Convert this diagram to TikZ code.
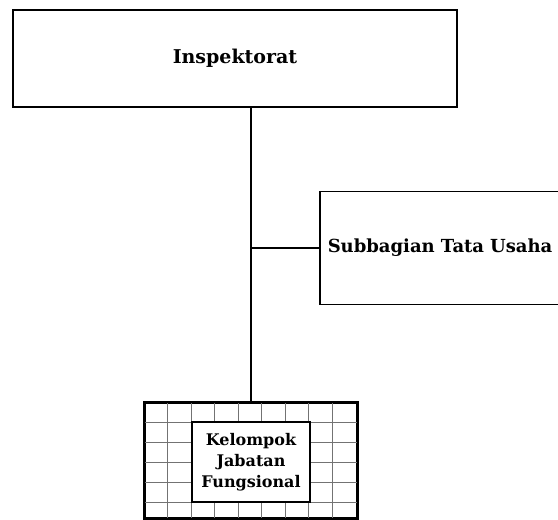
\documentclass[tikz,border=0pt]{standalone}
\usepackage{fontspec}
\setmainfont{DejaVu Serif}
\usetikzlibrary{positioning,calc}

\begin{document}
\begin{tikzpicture}[x=1pt, y=-1pt]
	\tikzset{
		unitbox/.style={rectangle, draw=black, line width=1.5pt, fill=white, inner sep=0pt, font=\bfseries\fontsize{19}{23}\selectfont},
		gridbox/.style={rectangle, draw=black, line width=2.2pt, inner sep=0pt},
		innerbox/.style={rectangle, draw=black, line width=1.6pt, fill=white, inner sep=0pt, text centered, font=\bfseries\fontsize{16}{21}\selectfont},
		gridline/.style={draw=black!55, line width=0.7pt},
		orgline/.style={-, line width=1.5pt}
	}
	\useasboundingbox (0,0) rectangle (558,520);
	\node[unitbox, minimum width=444pt, minimum height=97pt] (insp) at (235,58.5) {Inspektorat};
	\node[unitbox, anchor=west, minimum height=113pt, text width=250pt, align=left, inner xsep=8pt, font=\bfseries\fontsize{18}{22}\selectfont] (subtu) at (319,248) {Subbagian Tata Usaha};

	\node[gridbox, minimum width=212pt, minimum height=115pt] (jfa) at (251,460.5) {};
	\foreach \k in {1,...,8}
		\draw[gridline] ($(jfa.north west)+(23.5*\k,0)$) -- ($(jfa.south west)+(23.5*\k,0)$);
	\foreach \k in {1,...,5}
		\draw[gridline] ($(jfa.north west)+(0,20*\k)$) -- ($(jfa.north east)+(0,20*\k)$);
	\draw[line width=2.2pt] (jfa.north west) rectangle (jfa.south east);
	\node[innerbox, minimum width=118pt, minimum height=80pt, align=center] (kjf) at (251,462) {Kelompok\\Jabatan\\Fungsional};

	\draw[orgline] (insp.south -| jfa.north) -- (jfa.north);
	\draw[orgline] (jfa.north |- subtu.west) -- (subtu.west);
\end{tikzpicture}
\end{document}
